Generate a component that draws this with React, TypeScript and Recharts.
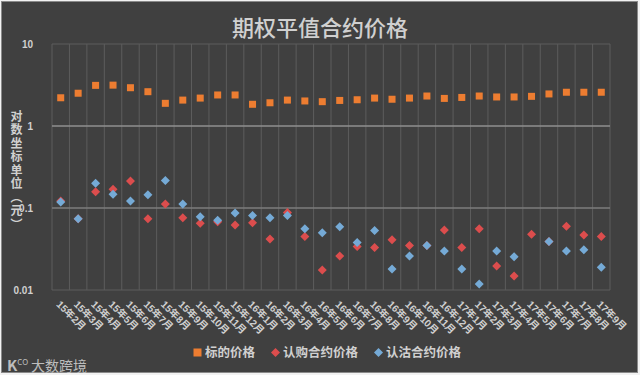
import { ComposedChart, Line, XAxis, YAxis, CartesianGrid, ReferenceLine } from 'recharts';

const months = [
  '15年2月', '15年3月', '15年4月', '15年5月', '15年6月', '15年7月', '15年8月', '15年9月',
  '15年10月', '15年11月', '15年12月', '16年1月', '16年2月', '16年3月', '16年4月', '16年5月',
  '16年6月', '16年7月', '16年8月', '16年9月', '16年10月', '16年11月', '16年12月', '17年1月',
  '17年2月', '17年3月', '17年4月', '17年5月', '17年6月', '17年7月', '17年8月', '17年9月',
];

// 标的价格
const underlyingPrice = [
  2.21, 2.51, 3.13, 3.15, 2.93, 2.62, 1.89, 2.07, 2.19, 2.39, 2.39, 1.84, 1.92, 2.07, 2.02, 1.98,
  2.05, 2.09, 2.19, 2.12, 2.19, 2.32, 2.17, 2.23, 2.32, 2.26, 2.26, 2.3, 2.46, 2.58, 2.58, 2.58,
];

// 认购合约价格
const callPrice = [
  0.122, 0.074, 0.158, 0.169, 0.213, 0.074, 0.112, 0.076, 0.065, 0.068, 0.062, 0.066, 0.042, 0.088, 0.045, 0.0175,
  0.026, 0.034, 0.033, 0.041, 0.035, 0.035, 0.054, 0.033, 0.056, 0.0196, 0.0148, 0.048, 0.039, 0.06, 0.047, 0.045,
];

// 认沽合约价格
const putPrice = [
  0.118, 0.074, 0.2, 0.147, 0.122, 0.145, 0.216, 0.112, 0.078, 0.071, 0.087, 0.081, 0.076, 0.081, 0.056, 0.05,
  0.059, 0.038, 0.053, 0.018, 0.026, 0.035, 0.03, 0.018, 0.0118, 0.03, 0.0255, null, 0.039, 0.03, 0.031, 0.019,
];

const yTicks = [0.01, 0.1, 1, 10];

const data = months.map((month, i) => ({
  month,
  underlying: underlyingPrice[i],
  call: callPrice[i],
  put: putPrice[i],
}));

const ORANGE = '#ed7d31';
const RED = '#dc4d4d';
const BLUE = '#75aad6';
const TEXT = '#d0d0d0';
const FONT = '"Liberation Sans", "Noto Sans CJK SC", sans-serif';

const squareDot = (props: any) => {
  const { cx, cy, key } = props;
  if (cx == null || cy == null) return <g key={key} />;
  return <rect key={key} x={cx - 3.5} y={cy - 3.5} width={7} height={7} fill={ORANGE} />;
};

const diamondDot = (color: string) => (props: any) => {
  const { cx, cy, key } = props;
  if (cx == null || cy == null) return <g key={key} />;
  return (
    <path
      key={key}
      d={`M${cx},${cy - 4.5} L${cx + 4.5},${cy} L${cx},${cy + 4.5} L${cx - 4.5},${cy} Z`}
      fill={color}
    />
  );
};

const MonthTick = ({ x, y, payload }: any) => {
  const tx = x - 5;
  const ty = y + 15;
  return (
    <text
      x={tx}
      y={ty}
      transform={`rotate(45 ${tx} ${ty})`}
      textAnchor="start"
      fill={TEXT}
      fontSize={10}
      fontWeight="bold"
      fontFamily={FONT}
    >
      {payload.value}
    </text>
  );
};

const LegendItem = ({ color, shape, label }: { color: string; shape: 'square' | 'diamond'; label: string }) => (
  <span style={{ display: 'inline-flex', alignItems: 'center', marginRight: 16 }}>
    <svg width={9} height={9} style={{ marginRight: 3 }}>
      {shape === 'square' ? (
        <rect x={0.5} y={0.5} width={8} height={8} fill={color} />
      ) : (
        <path d="M4.5,0 L9,4.5 L4.5,9 L0,4.5 Z" fill={color} />
      )}
    </svg>
    <span>{label}</span>
  </span>
);

export default function App() {
  return (
    <div style={{ position: 'absolute', left: 0, top: 0, width: 640, height: 375, background: '#f2f2f2' }}>
      <div
        style={{
          position: 'absolute',
          left: 1,
          top: 1,
          width: 635,
          height: 370,
          background: '#404040',
          border: '1px solid #8a8a8a',
        }}
      />
      <div
        style={{
          position: 'absolute',
          left: 0,
          top: 12,
          width: 640,
          textAlign: 'center',
          color: TEXT,
          fontSize: 22,
          fontWeight: 500,
          fontFamily: '"Noto Sans CJK SC", sans-serif',
          lineHeight: '28px',
        }}
      >
        期权平值合约价格
      </div>
      <div
        style={{
          position: 'absolute',
          left: 8,
          top: 110,
          writingMode: 'vertical-rl',
          textOrientation: 'upright',
          color: TEXT,
          fontSize: 12,
          fontWeight: 'bold',
          letterSpacing: 1.5,
          fontFamily: '"Noto Sans CJK SC", sans-serif',
        }}
      >
        对数坐标单位（元）
      </div>
      <div style={{ position: 'absolute', left: 0, top: 0 }}>
        <ComposedChart width={640} height={375} data={data} margin={{ top: 44, right: 30, left: 0, bottom: 35 }}>
          <CartesianGrid
            stroke="#5c5c5c"
            strokeWidth={1}
            verticalCoordinatesGenerator={({ offset }: any) =>
              Array.from({ length: months.length + 1 }, (_, i) => offset.left + (i * offset.width) / months.length)
            }
          />
          <ReferenceLine y={1} stroke="#a8a8a8" strokeWidth={1} />
          <ReferenceLine y={0.1} stroke="#8c8c8c" strokeWidth={1} />
          <XAxis
            dataKey="month"
            scale="band"
            interval={0}
            height={50}
            axisLine={false}
            tickLine={false}
            tickSize={0}
            tickMargin={0}
            tick={<MonthTick />}
          />
          <YAxis
            scale="log"
            domain={[0.01, 10]}
            ticks={yTicks}
            allowDataOverflow
            width={52}
            axisLine={false}
            tickLine={false}
            tickMargin={13}
            tickFormatter={(v: number) => String(v)}
            tick={{ fill: TEXT, fontSize: 10, fontWeight: 'bold', fontFamily: FONT }}
          />
          <Line dataKey="underlying" stroke="none" dot={squareDot} activeDot={false} isAnimationActive={false} />
          <Line dataKey="call" stroke="none" dot={diamondDot(RED)} activeDot={false} isAnimationActive={false} />
          <Line dataKey="put" stroke="none" dot={diamondDot(BLUE)} activeDot={false} isAnimationActive={false} />
        </ComposedChart>
      </div>
      <div
        style={{
          position: 'absolute',
          left: 193,
          top: 344,
          display: 'flex',
          alignItems: 'center',
          color: TEXT,
          fontSize: 12.5,
          fontWeight: 'bold',
          fontFamily: '"Noto Sans CJK SC", sans-serif',
          lineHeight: '16px',
        }}
      >
        <LegendItem color={ORANGE} shape="square" label="标的价格" />
        <LegendItem color={RED} shape="diamond" label="认购合约价格" />
        <LegendItem color={BLUE} shape="diamond" label="认沽合约价格" />
      </div>
      <div
        style={{
          position: 'absolute',
          left: 7,
          top: 353,
          color: '#bdbdbd',
          fontFamily: '"Noto Sans CJK SC", sans-serif',
          fontSize: 14,
          lineHeight: '18px',
          whiteSpace: 'nowrap',
        }}
      >
        <span style={{ fontSize: 15, fontWeight: 'bold' }}>K</span>
        <sup style={{ fontSize: 8 }}>CO</sup>
        <span style={{ marginLeft: 3 }}>大数跨境</span>
      </div>
    </div>
  );
}
